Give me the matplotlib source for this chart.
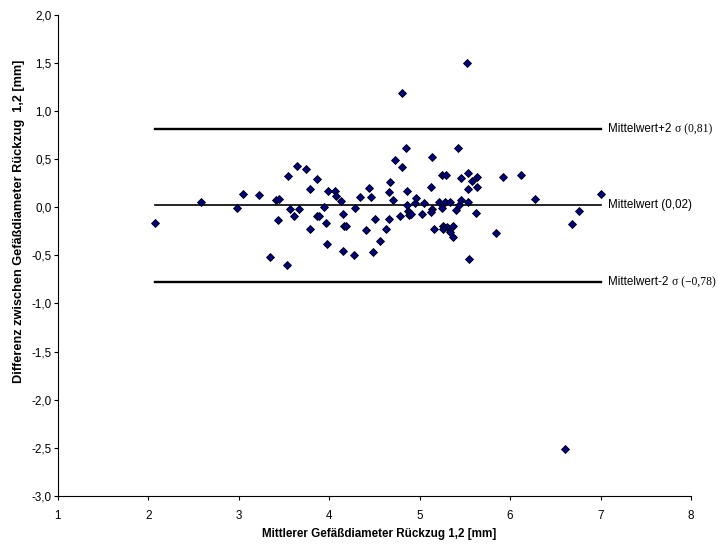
import matplotlib
matplotlib.use("Agg")
import matplotlib.pyplot as plt
from matplotlib.ticker import FuncFormatter, MultipleLocator

# Mean vessel diameter (x) and difference between pullbacks 1 and 2 (y), in mm
diam = [
    2.08, 2.58, 2.98, 3.05, 3.23, 3.35, 3.41, 3.45, 3.43, 3.53,
    3.55, 3.57, 3.61, 3.65, 3.67, 3.74, 3.79, 3.79, 3.87, 3.87,
    3.89, 3.94, 3.97, 3.98, 3.99, 4.07, 4.08, 4.13, 4.15, 4.15,
    4.16, 4.19, 4.28, 4.29, 4.34, 4.41, 4.44, 4.46, 4.48, 4.51,
    4.56, 4.63, 4.66, 4.66, 4.67, 4.71, 4.73, 4.78, 4.80, 4.85,
    4.86, 4.86, 4.87, 4.88, 4.91, 4.95, 4.96, 5.03, 5.05, 5.13,
    5.14, 5.14, 5.13, 5.16, 5.21, 5.25, 5.29, 5.25, 5.26, 5.28,
    5.26, 5.30, 5.33, 5.34, 5.34, 5.37, 5.37, 5.40, 5.42, 5.44,
    5.46, 5.46, 5.53, 5.54, 5.54, 5.55, 5.58, 5.63, 5.64, 5.62,
    5.84, 5.92, 6.12, 6.28, 6.69, 6.76, 7.01, 4.80, 5.52, 6.61,
]
diff = [
    -0.16, 0.05, -0.01, 0.14, 0.13, -0.52, 0.07, 0.09, -0.13, -0.60,
    0.32, -0.02, -0.09, 0.43, -0.02, 0.40, 0.19, -0.23, 0.29, -0.09,
    -0.09, 0.00, -0.16, -0.38, 0.17, 0.17, 0.12, 0.06, -0.07, -0.45,
    -0.19, -0.20, -0.50, -0.01, 0.11, -0.24, 0.20, 0.11, -0.47, -0.12,
    -0.35, -0.23, -0.12, 0.16, 0.26, 0.08, 0.49, -0.09, 0.42, 0.62,
    0.17, 0.02, -0.04, -0.08, -0.07, 0.04, 0.10, -0.07, 0.04, 0.21,
    -0.02, 0.52, -0.05, -0.23, 0.05, 0.34, 0.34, -0.01, -0.19, 0.05,
    -0.23, -0.21, -0.23, 0.05, -0.26, -0.19, -0.31, -0.03, 0.62, 0.02,
    0.07, 0.30, 0.36, 0.19, 0.05, -0.54, 0.27, 0.31, 0.21, -0.06,
    -0.27, 0.31, 0.33, 0.09, -0.17, -0.04, 0.14, 1.19, 1.50, -2.51,
]

# reference lines: value, label head (sans), label tail (serif), line width
ref_values = [0.81, 0.02, -0.78]
ref_heads = ["Mittelwert+2", "Mittelwert (0,02)", "Mittelwert-2"]
ref_tails = ["σ (0,81)", "", "σ (\u22120,78)"]
ref_widths = [1.7, 1.2, 1.7]

plt.rcParams["font.family"] = ["Liberation Sans", "DejaVu Sans"]

fig = plt.figure(figsize=(7.18, 5.47), dpi=100)
ax = fig.add_axes([0.0804, 0.0932, 0.882, 0.8799])

x_lo, x_hi = min(diam), max(diam)
for val, lw in zip(ref_values, ref_widths):
    ax.plot([x_lo, x_hi], [val, val], color="black", linewidth=lw, zorder=1)

ax.plot(diam, diff, linestyle="none", marker="D", markersize=3.7,
        markerfacecolor="#000080", markeredgecolor="black",
        markeredgewidth=0.6, zorder=3)

for val, head, tail in zip(ref_values, ref_heads, ref_tails):
    t = ax.text(7.085, val, head, fontsize=8.4, ha="left", va="center")
    if tail:
        ax.annotate(tail, xy=(1, 0.5), xycoords=t, xytext=(2.5, 0),
                    textcoords="offset points", ha="left", va="center",
                    fontsize=8.4, family=["Liberation Serif", "DejaVu Serif"])

ax.set_xlim(1, 8)
ax.set_ylim(-3, 2)
ax.xaxis.set_major_locator(MultipleLocator(1))
ax.yaxis.set_major_locator(MultipleLocator(0.5))
ax.yaxis.set_major_formatter(FuncFormatter(lambda v, p: f"{v:.1f}".replace(".", ",")))

for side in ["top", "right"]:
    ax.spines[side].set_visible(False)
for side in ["left", "bottom"]:
    ax.spines[side].set_linewidth(0.8)
ax.tick_params(direction="out", length=3, width=0.8, labelsize=8.4)
ax.tick_params(axis="x", pad=7)
ax.tick_params(axis="y", pad=1.5)

ax.set_xlabel("Mittlerer Gefäßdiameter Rückzug 1,2 [mm]", fontsize=8.4, fontweight="bold")
ax.set_ylabel("Differenz zwischen Gefäßdiameter Rückzug  1,2 [mm]", fontsize=9.2,
              fontweight="bold")
ax.xaxis.set_label_coords(0.507, -0.066)
ax.yaxis.set_label_coords(-0.052, 0.57)

fig.savefig("out.png", dpi=100)
plt.close(fig)
